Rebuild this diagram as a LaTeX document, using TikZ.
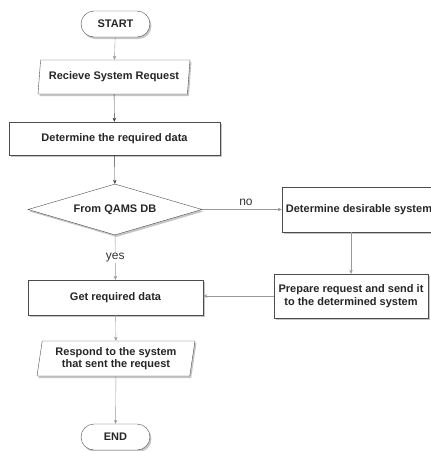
\documentclass[tikz,border=0pt]{standalone}
\usepackage{fontspec}
\setmainfont{Liberation Sans}
\usetikzlibrary{shapes.geometric,shapes.misc,shadows,arrows.meta}

\begin{document}
\begin{tikzpicture}[x=1pt,y=-1pt,font=\bfseries\fontsize{11}{12.5}\selectfont]
  \tikzset{box/.style={draw=black!70,fill=white,text=black!85,align=center,inner sep=1pt,
      drop shadow={shadow xshift=1.5pt,shadow yshift=-2pt,opacity=0.45}},
    terminal/.style={box,rounded rectangle,minimum width=71pt,minimum height=26pt},
    inout/.style={box,trapezium,trapezium left angle=78,trapezium right angle=102,
      trapezium stretches body,minimum height=34pt},
    process/.style={box,rectangle},
    decision/.style={box,diamond,aspect=3.4,minimum width=174pt,minimum height=51pt,inner sep=0pt},
    flow/.style={draw=black!40,-{Stealth[length=4pt,width=3.5pt]}},
    edgetext/.style={font=\fontsize{12}{14}\selectfont,text=black!80}}
  \clip (0,0) rectangle (431,451);
  \node[terminal] (start) at (115.5,24) {START};
  \node[inout,minimum width=152pt] (recv) at (114,77) {Recieve System Request};
  \node[process,minimum width=211pt,minimum height=33pt] (reqdata) at (114.5,138.5) {Determine the required data};
  \node[decision] (qams) at (115,209.5) {From QAMS DB};
  \node[process,minimum width=154pt,minimum height=45pt] (desired) at (359,209.5) {Determine desirable system};
  \node[process,minimum width=154pt,minimum height=44pt] (prepare) at (351,296) {Prepare request and send it\\to the determined system};
  \node[process,minimum width=175pt,minimum height=35pt] (getdata) at (115.5,297.5) {Get required data};
  \node[inout,minimum width=158pt,minimum height=35pt] (respond) at (116,358.5) {Respond to the system\\that sent the request};
  \node[terminal] (end) at (115.5,437) {END};
  % connectors
  \draw[flow] (start) -- (recv);
  \draw[flow,draw=black!75] (recv) -- (reqdata);
  \draw[flow,draw=black!75] (reqdata) -- (qams);
  \draw[flow] (qams) -- node[edgetext,fill=white,inner sep=1pt] {yes} (getdata);
  \draw[flow] (qams) -- node[edgetext,above,pos=0.55] {no} (desired);
  \draw[flow] (desired.south -| prepare.north) -- (prepare.north);
  \draw[flow] (prepare.west) -- (prepare.west -| getdata.east);
  \draw[flow] (getdata) -- (respond);
  \draw[flow] (respond) -- (end);
\end{tikzpicture}
\end{document}
